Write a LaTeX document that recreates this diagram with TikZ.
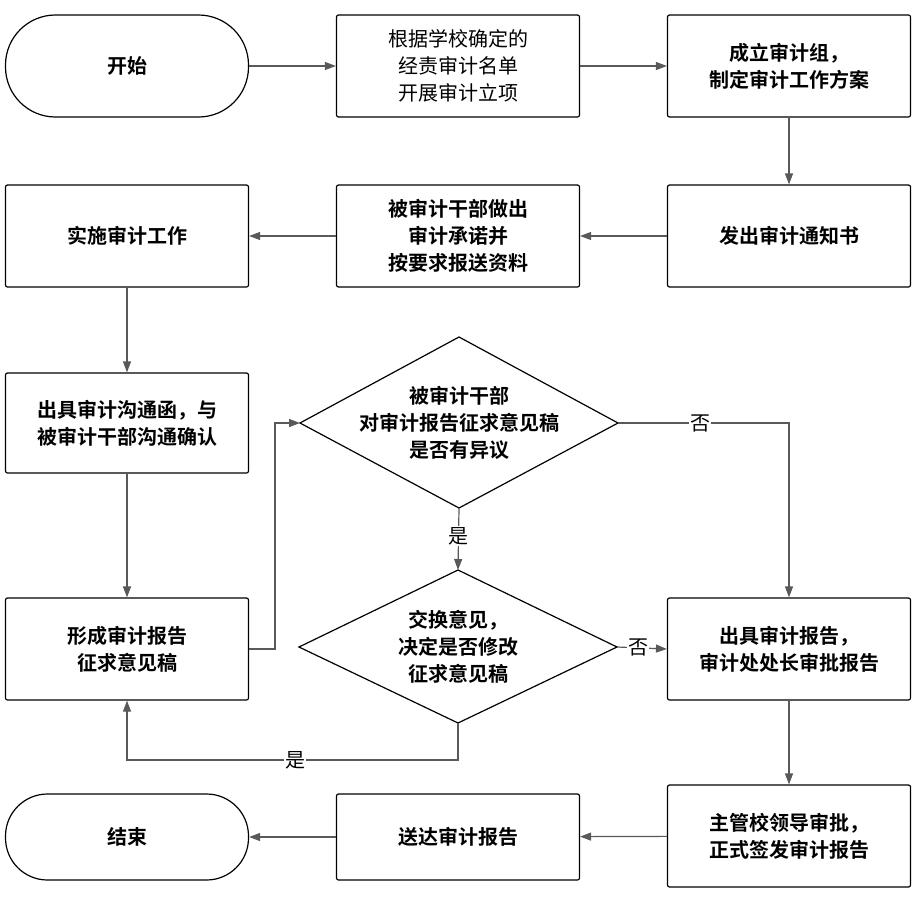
\documentclass[tikz,border=0pt]{standalone}
\usepackage{fontspec}
\newfontfamily\cjk{Noto Sans CJK SC}
\newfontfamily\cjkb{Noto Sans CJK SC Bold}
\usetikzlibrary{shapes.geometric,arrows.meta}
\begin{document}
\begin{tikzpicture}[x=1pt,y=-1pt,
 box/.style={draw=black,line width=1.2pt,rounded corners=2pt,minimum width=243pt,minimum height=102pt,align=center,font=\cjkb\fontsize{20}{27}\selectfont,inner sep=0pt},
 term/.style={box,rounded corners=50pt},
 dia/.style={draw=black,line width=1.2pt,diamond,aspect=2,inner sep=0pt,align=center,font=\cjkb\fontsize{20}{27}\selectfont},
 ar/.style={draw=black!65,line width=1.2pt,-{Triangle[length=11pt,width=8pt]}},
 ln/.style={draw=black!65,line width=1.2pt},
 lab/.style={fill=white,inner sep=1pt,font=\cjk\fontsize{20}{24}\selectfont}]
\useasboundingbox (0,0) rectangle (921,902);
\node[term] (s) at (127,66) {开始};
\node[box,font=\cjk\fontsize{20}{27}\selectfont] (a) at (458,66) {根据学校确定的\\经责审计名单\\开展审计立项};
\node[box] (b) at (789,66) {成立审计组，\\制定审计工作方案};
\node[box] (c) at (789,236) {发出审计通知书};
\node[box] (d) at (458,236) {被审计干部做出\\审计承诺并\\按要求报送资料};
\node[box] (e) at (127,236) {实施审计工作};
\node[box,minimum height=100pt] (f) at (127,423) {出具审计沟通函，与\\被审计干部沟通确认};
\node[box] (g) at (127,649) {形成审计报告\\征求意见稿};
\draw[line width=1.2pt] (300,423) -- (459,337) -- (618,423) -- (459,508) -- cycle;
\node[font=\cjkb\fontsize{20}{27}\selectfont,align=center] (q1) at (459,423) {被审计干部\\对审计报告征求意见稿\\是否有异议};
\coordinate (q1l) at (300,423); \coordinate (q1r) at (618,423);
\coordinate (q1t) at (459,337); \coordinate (q1b) at (459,508);
\draw[line width=1.2pt] (299,647) -- (458,570) -- (617,647) -- (458,723) -- cycle;
\node[font=\cjkb\fontsize{20}{27}\selectfont,align=center] (q2) at (458,647) {交换意见，\\决定是否修改\\征求意见稿};
\coordinate (q2l) at (299,647); \coordinate (q2r) at (617,647);
\coordinate (q2t) at (458,570); \coordinate (q2b) at (458,723);
\node[box] (h) at (789,649) {出具审计报告，\\审计处处长审批报告};
\node[box] (i) at (789,836) {主管校领导审批，\\正式签发审计报告};
\node[box,minimum height=86pt] (j) at (458,837) {送达审计报告};
\node[term,minimum height=86pt,rounded corners=42pt] (k) at (127,837) {结束};
\draw[ar] (s) -- (a);
\draw[ar] (a) -- (b);
\draw[ar] (b) -- (c);
\draw[ar] (c) -- (d);
\draw[ar] (d) -- (e);
\draw[ar] (e) -- (f);
\draw[ar] (f) -- (g);
\draw[ar] (g.east) -- (275,649) -- (275,423) -- (q1l);
\draw[ar] (q1r) -- (789,423) -- (h.north);
\node[lab] at (700,423) {否};
\draw[ar] (q1b) -- (q2t);
\node[lab] at (458,536) {是};
\draw[ar] (q2r) -- (h.west);
\node[lab] at (638,647) {否};
\draw[ar] (q2b) -- (458,760) -- (127,760) -- (g.south);
\node[lab] at (295,760) {是};
\draw[ar] (h) -- (i);
\draw[ar] (i) -- (j);
\draw[ar] (j) -- (k);
\end{tikzpicture}
\end{document}
